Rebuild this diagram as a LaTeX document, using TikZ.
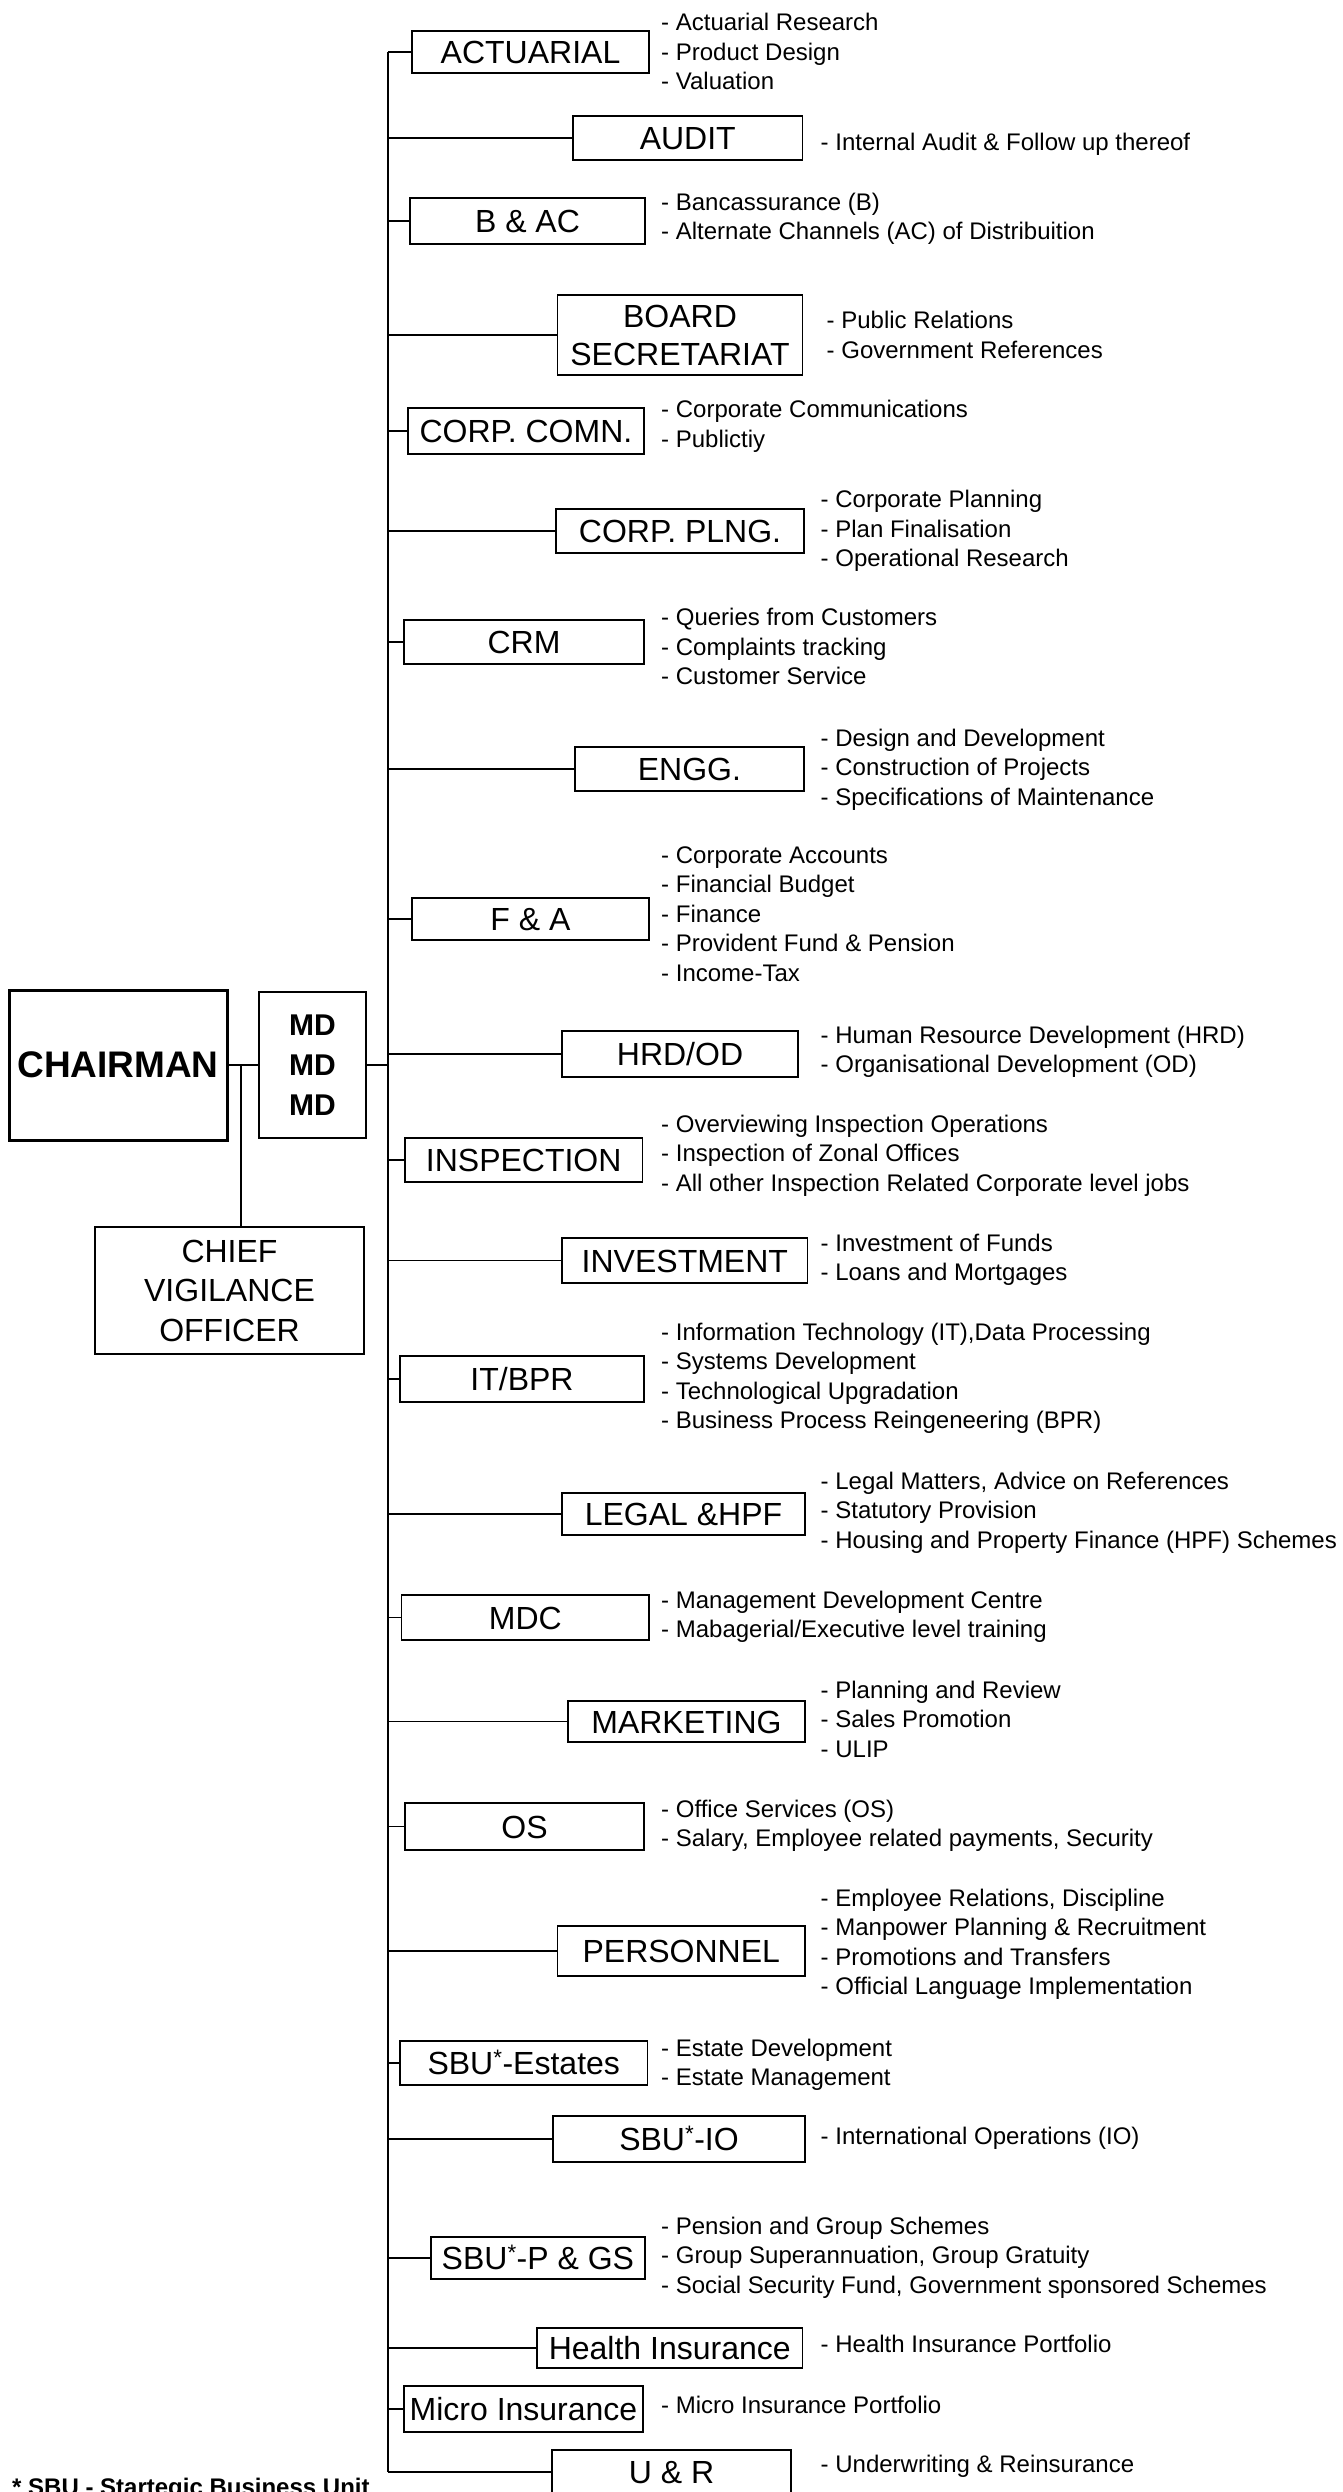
\documentclass[tikz,border=0pt]{standalone}
\usepackage{fontspec}
\setmainfont{Liberation Sans}
\begin{document}
\begin{tikzpicture}[x=1pt,y=-1pt,
  deptbox/.style={draw, line width=1.5pt, inner sep=0pt, text height=23pt, text depth=0pt,
    font=\fontsize{32}{32}\selectfont},
  multibox/.style={draw, line width=1.5pt, inner sep=0pt, align=center},
  desc/.style={anchor=north west, inner sep=0pt, align=left, font=\fontsize{24}{29.5}\selectfont},
  conn/.style={line width=1.5pt}]
\useasboundingbox (0,0) rectangle (1343,2492);

% left column
\node[multibox, line width=3pt, minimum width=218pt, minimum height=150pt, font=\bfseries\fontsize{37}{37}\selectfont] (chair) at (118,1065) {CHAIRMAN};
\node[multibox, minimum width=107pt, minimum height=146pt, font=\bfseries\fontsize{30}{40}\selectfont] (md) at (312.5,1065) {MD\\MD\\MD};
\node[multibox, minimum width=269pt, minimum height=127pt, font=\fontsize{32}{39.5}\selectfont] (cvo) at (229.5,1290.5) {CHIEF\\VIGILANCE\\OFFICER};

% department boxes
\node[deptbox, minimum width=237pt, minimum height=42pt] (act) at (530.5,52) {ACTUARIAL};
\node[deptbox, minimum width=229.5pt, minimum height=44pt] (audit) at (687.75,138) {AUDIT};
\node[deptbox, minimum width=235pt, minimum height=46pt] (bac) at (527.5,221) {B \& AC};
\node[multibox, minimum width=245pt, minimum height=80pt, font=\fontsize{32}{38}\selectfont] (board) at (680,335) {BOARD\\SECRETARIAT};
\node[deptbox, minimum width=236.3pt, minimum height=46pt] (comn) at (525.9,431) {CORP. COMN.};
\node[deptbox, minimum width=248pt, minimum height=44pt] (plng) at (680,531) {CORP. PLNG.};
\node[deptbox, minimum width=240pt, minimum height=44pt] (crm) at (524,642) {CRM};
\node[deptbox, minimum width=229.3pt, minimum height=44pt] (engg) at (689.4,769) {ENGG.};
\node[deptbox, minimum width=237pt, minimum height=42pt] (fa) at (530.5,919) {F \& A};
\node[deptbox, minimum width=236pt, minimum height=46pt] (hrd) at (680,1054) {HRD/OD};
\node[deptbox, minimum width=237.4pt, minimum height=44pt] (insp) at (523.7,1160) {INSPECTION};
\node[deptbox, minimum width=245.7pt, minimum height=45pt] (inv) at (684.85,1260.5) {INVESTMENT};
\node[deptbox, minimum width=244pt, minimum height=46pt] (it) at (522,1379) {IT/BPR};
\node[deptbox, minimum width=243pt, minimum height=42pt] (legal) at (683.5,1514) {LEGAL \&HPF};
\node[deptbox, minimum width=247.3pt, minimum height=45pt] (mdc) at (525.35,1617.5) {MDC};
\node[deptbox, minimum width=237pt, minimum height=41pt] (mkt) at (686.5,1721.5) {MARKETING};
\node[deptbox, minimum width=239pt, minimum height=47pt] (os) at (524.5,1826.5) {OS};
\node[deptbox, minimum width=247.4pt, minimum height=50pt] (pers) at (681.3,1951) {PERSONNEL};
\node[deptbox, minimum width=247.5pt, minimum height=44pt] (est) at (523.75,2063) {SBU\textsuperscript{*}-Estates};
\node[deptbox, minimum width=252pt, minimum height=46pt] (io) at (679,2139) {SBU\textsuperscript{*}-IO};
\node[deptbox, minimum width=214.2pt, minimum height=42pt] (pgs) at (537.9,2258) {SBU\textsuperscript{*}-P \& GS};
\node[deptbox, minimum width=265.5pt, minimum height=40pt] (health) at (669.75,2348) {Health Insurance};
\node[deptbox, minimum width=239pt, minimum height=46pt] (micro) at (523.5,2409) {Micro Insurance};
\node[deptbox, minimum width=239pt, minimum height=44pt] (ur) at (671.5,2472) {U \& R};

% descriptions
\node[desc] (dact) at (661,13.1) {- Actuarial Research\\- Product Design\\- Valuation};
\node[desc] (daudit) at (820.5,133.1) {- Internal Audit \& Follow up thereof};
\node[desc] (dbac) at (661,192.7) {- Bancassurance (B)\\- Alternate Channels (AC) of Distribuition};
\node[desc] (dboard) at (826.5,311.4) {- Public Relations\\- Government References};
\node[desc] (dcomn) at (661,400.4) {- Corporate Communications\\- Publictiy};
\node[desc] (dplng) at (820.5,490.4) {- Corporate Planning\\- Plan Finalisation\\- Operational Research};
\node[desc] (dcrm) at (661,608.4) {- Queries from Customers\\- Complaints tracking\\- Customer Service};
\node[desc] (dengg) at (820.5,728.4) {- Design and Development\\- Construction of Projects\\- Specifications of Maintenance};
\node[desc] (dfa) at (661,846.4) {- Corporate Accounts\\- Financial Budget\\- Finance\\- Provident Fund \& Pension\\- Income-Tax};
\node[desc] (dhrd) at (820.5,1025.4) {- Human Resource Development (HRD)\\- Organisational Development (OD)};
\node[desc] (dinsp) at (661,1114.4) {- Overviewing Inspection Operations\\- Inspection of Zonal Offices\\- All other Inspection Related Corporate level jobs};
\node[desc] (dinv) at (820.5,1233.4) {- Investment of Funds\\- Loans and Mortgages};
\node[desc] (dit) at (661,1322.4) {- Information Technology (IT),Data Processing\\- Systems Development\\- Technological Upgradation\\- Business Process Reingeneering (BPR)};
\node[desc] (dlegal) at (820.5,1471.4) {- Legal Matters, Advice on References\\- Statutory Provision\\- Housing and Property Finance (HPF) Schemes};
\node[desc] (dmdc) at (661,1590.4) {- Management Development Centre\\- Mabagerial/Executive level training};
\node[desc] (dmkt) at (820.5,1680.4) {- Planning and Review\\- Sales Promotion\\- ULIP};
\node[desc] (dos) at (661,1799.4) {- Office Services (OS)\\- Salary, Employee related payments, Security};
\node[desc] (dpers) at (820.5,1888.4) {- Employee Relations, Discipline\\- Manpower Planning \& Recruitment\\- Promotions and Transfers\\- Official Language Implementation};
\node[desc] (dest) at (661,2038.4) {- Estate Development\\- Estate Management};
\node[desc] (dio) at (820.5,2126.4) {- International Operations (IO)};
\node[desc] (dpgs) at (661,2216.4) {- Pension and Group Schemes\\- Group Superannuation, Group Gratuity\\- Social Security Fund, Government sponsored Schemes};
\node[desc] (dhealth) at (820.5,2334.4) {- Health Insurance Portfolio};
\node[desc] (dmicro) at (661,2395.4) {- Micro Insurance Portfolio};
\node[desc] (dur) at (820.5,2454.4) {- Underwriting \& Reinsurance};

% footnote
\node[anchor=north west, inner sep=0pt, font=\bfseries\fontsize{24}{24}\selectfont] (foot) at (12,2478) {* SBU - Startegic Business Unit};

% connectors
\coordinate (trunk) at (388,0);
\coordinate (j) at (241,1065);
\draw[conn] (chair.east) -- (md.west);
\draw[conn] (j) -- (j |- cvo.north);
\draw[conn] (md.east) -- (md.east -| trunk);
\draw[conn] (act.west -| trunk) -- (ur.west -| trunk);
\foreach \n in {act,audit,bac,board,comn,plng,crm,engg,fa,hrd,insp,inv,it,legal,mdc,mkt,os,pers,est,io,pgs,health,micro,ur}
  \draw[conn] (\n.west) -- (\n.west -| trunk);
\end{tikzpicture}
\end{document}
